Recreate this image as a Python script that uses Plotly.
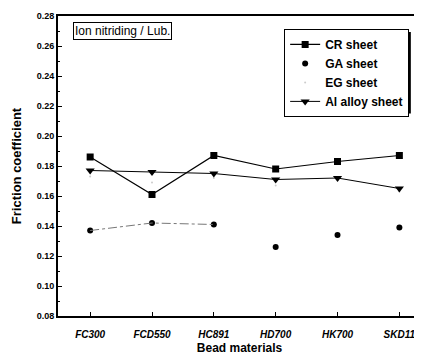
import plotly.graph_objects as go

materials = ["FC300", "FCD550", "HC891", "HD700", "HK700", "SKD11"]
cr_sheet = [0.186, 0.161, 0.187, 0.178, 0.183, 0.187]
ga_sheet = [0.137, 0.142, 0.141, 0.126, 0.134, 0.139]
eg_sheet = [0.173, 0.169, 0.172, 0.167, 0.171, 0.163]
al_sheet = [0.177, 0.176, 0.175, 0.171, 0.172, 0.165]

xs = list(range(len(materials)))
F = "Liberation Sans, Arial, sans-serif"

fig = go.Figure()
fig.add_trace(go.Scatter(x=xs, y=cr_sheet, name="CR sheet", mode="lines+markers",
                         line=dict(color="black", width=1.2),
                         marker=dict(symbol="square", size=7, color="black")))
fig.add_trace(go.Scatter(x=xs, y=ga_sheet, name="GA sheet", mode="markers",
                         marker=dict(symbol="circle", size=6, color="black")))
fig.add_trace(go.Scatter(x=xs[:3], y=ga_sheet[:3], mode="lines", showlegend=False,
                         line=dict(color="#777777", width=1, dash="dashdot")))
fig.add_trace(go.Scatter(x=xs, y=eg_sheet, name="EG sheet", mode="markers",
                         marker=dict(symbol="circle", size=2, color="#cccccc")))
fig.add_trace(go.Scatter(x=xs, y=al_sheet, name="Al alloy sheet", mode="lines+markers",
                         line=dict(color="black", width=1),
                         marker=dict(symbol="triangle-down", size=8, color="black")))

fig.update_xaxes(range=[-0.52, 5.35], tickvals=xs, ticktext=materials, automargin=False,
                 ticks="inside", ticklen=4, tickcolor="black", showgrid=False, ticklabelstandoff=8,
                 showline=True, linecolor="black", linewidth=2, mirror=True, zeroline=False,
                 tickfont=dict(family=F, size=10, color="black", style="italic", weight="bold"),
                 title=dict(text="Bead materials", font=dict(family=F, size=12, color="black", weight="bold"), standoff=5))
fig.update_yaxes(range=[0.08, 0.28], dtick=0.02, tickformat=".2f", automargin=False,
                 ticks="inside", ticklen=4, tickcolor="black", showgrid=False,
                 minor=dict(dtick=0.01, ticks="inside", ticklen=2, tickcolor="black"),
                 showline=True, linecolor="black", linewidth=2, mirror=True, zeroline=False,
                 tickfont=dict(family=F, size=9, color="black", weight="bold"),
                 title=dict(text="Friction coefficient", font=dict(family=F, size=13, color="black", weight="bold"), standoff=12))

fig.add_annotation(x=0.04, y=0.98, xref="paper", yref="paper", xanchor="left", yanchor="top",
                   text="Ion nitriding / Lub.", showarrow=False,
                   font=dict(family=F, size=12, color="black"),
                   bordercolor="black", borderwidth=1, borderpad=1, bgcolor="white")

# legend shadow
fig.add_shape(type="rect", xref="paper", yref="paper", x0=0.631, x1=0.972, y0=0.675, y1=0.947,
              fillcolor="black", line=dict(width=0), layer="below")

fig.update_layout(
    width=414, height=347,
    margin=dict(l=50, r=1, t=8, b=39),
    plot_bgcolor="white", paper_bgcolor="white",
    showlegend=True,
    legend=dict(x=0.623, y=0.957, xanchor="left", yanchor="top",
                bgcolor="white", bordercolor="black", borderwidth=1,
                font=dict(family=F, size=12, color="black", weight="bold"),
                itemwidth=30, tracegroupgap=0),
)

fig.write_html("out.html")
